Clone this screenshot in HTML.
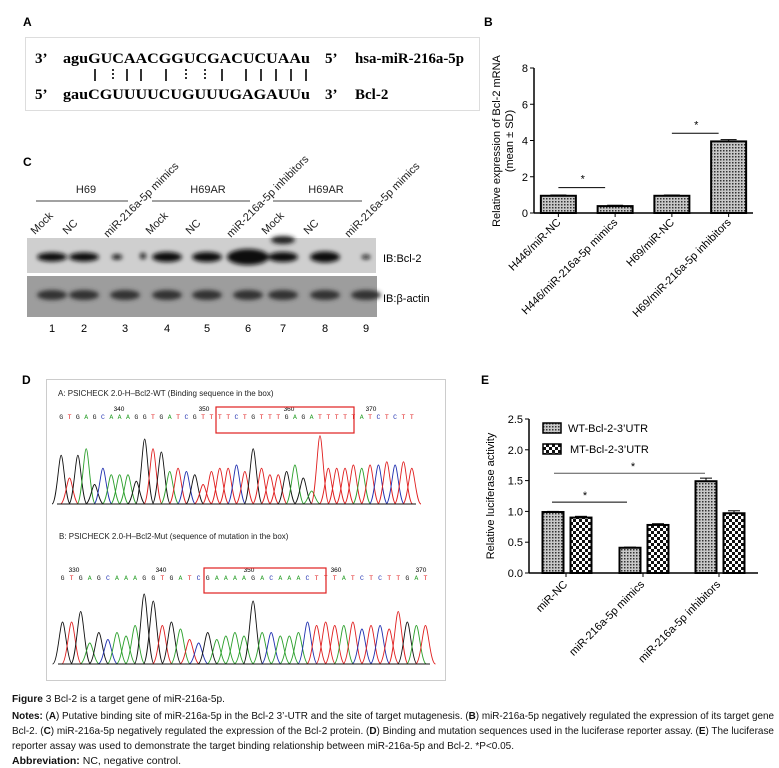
<!DOCTYPE html>
<html><head><meta charset="utf-8">
<style>
html,body{margin:0;padding:0;background:#fff;}
svg{display:block;font-family:"Liberation Sans",sans-serif;}
</style></head>
<body>
<svg id="fig" width="779" height="768" viewBox="0 0 779 768" xmlns="http://www.w3.org/2000/svg">
<defs>
  <pattern id="dots" width="3" height="3" patternUnits="userSpaceOnUse">
    <rect width="3" height="3" fill="#c8c8c8"/><rect width="1.5" height="1.5" fill="#333"/>
  </pattern>
  <pattern id="checks" width="6" height="6" patternUnits="userSpaceOnUse">
    <rect width="6" height="6" fill="#fff"/><rect width="3" height="3" fill="#111"/><rect x="3" y="3" width="3" height="3" fill="#111"/>
  </pattern>
  <filter id="blur" x="-30%" y="-100%" width="160%" height="300%"><feGaussianBlur stdDeviation="2.2"/></filter>
</defs>

<!-- Panel A -->
<g>
  <text x="23" y="26" font-size="12" font-weight="bold">A</text>
  <rect x="25.5" y="37.5" width="454" height="73" fill="#fff" stroke="#ddd"/>
  <g font-family="'Liberation Serif',serif" font-weight="bold" font-size="15">
    <text x="35" y="63">3’</text>
    <text x="63" y="63" textLength="247" lengthAdjust="spacingAndGlyphs">aguGUCAACGGUCGACUCUAAu</text>
    <text x="325" y="63">5’</text>
    <text x="355" y="63" textLength="109" lengthAdjust="spacingAndGlyphs">hsa-miR-216a-5p</text>
    <text x="35" y="99">5’</text>
    <text x="63" y="99" textLength="247" lengthAdjust="spacingAndGlyphs">gauCGUUUUCUGUUUGAGAUUu</text>
    <text x="325" y="99">3’</text>
    <text x="355" y="99">Bcl-2</text>
  </g>
  <g id="pairs" stroke="#000" stroke-width="1.6"></g>
</g>

<!-- Panel C -->
<g>
  <text x="23" y="166" font-size="12" font-weight="bold">C</text>
  <g font-size="11" fill="#222">
    <text x="86" y="193" text-anchor="middle">H69</text>
    <text x="208" y="193" text-anchor="middle">H69AR</text>
    <text x="326" y="193" text-anchor="middle">H69AR</text>
  </g>
  <g stroke="#444" stroke-width="1">
    <line x1="36" y1="201" x2="128" y2="201"/><line x1="152" y1="201" x2="250" y2="201"/><line x1="273" y1="201" x2="362" y2="201"/>
  </g>
  <g id="laneLabels" font-size="11" fill="#222"></g>
  <rect x="27" y="238" width="349" height="35" fill="#cfcfcf"/>
  <rect x="27" y="276" width="350" height="41" fill="#9d9d9d"/>
  <g id="bands" filter="url(#blur)"></g>
  <text x="383" y="262" font-size="11">IB:Bcl-2</text>
  <text x="383" y="302" font-size="11">IB:β-actin</text>
  <g id="laneNums" font-size="11" text-anchor="middle"></g>
</g>

<!-- Panel B -->
<g id="panelB">
  <text x="484" y="26" font-size="12" font-weight="bold">B</text>
  <text transform="translate(500,141) rotate(-90)" font-size="11" text-anchor="middle">Relative expression of Bcl-2 mRNA</text>
  <text transform="translate(513,141) rotate(-90)" font-size="11" text-anchor="middle">(mean ± SD)</text>
</g>

<!-- Panel D -->
<g>
  <text x="22" y="384" font-size="12" font-weight="bold">D</text>
  <rect x="46.5" y="379.5" width="399" height="301" fill="#fff" stroke="#ccc"/>
  <text x="58" y="396" font-size="8" fill="#222">A: PSICHECK 2.0-H–Bcl2-WT (Binding sequence in the box)</text>
  <text x="59" y="539" font-size="8" fill="#222">B: PSICHECK 2.0-H–Bcl2-Mut (sequence of mutation in the box)</text>
  <g id="chrom"></g>
  <rect x="216" y="407" width="138" height="26" fill="none" stroke="#e02020" stroke-width="1.2"/>
  <rect x="204" y="568" width="122" height="25" fill="none" stroke="#e02020" stroke-width="1.2"/>
</g>

<!-- Panel E -->
<g id="panelE">
  <text x="481" y="384" font-size="12" font-weight="bold">E</text>
  <text transform="translate(494,496) rotate(-90)" font-size="11" text-anchor="middle">Relative luciferase activity</text>
  <rect x="543" y="423" width="18" height="10" fill="url(#dots)" stroke="#000" stroke-width="1.5"/>
  <text x="568" y="432" font-size="11">WT-Bcl-2-3’UTR</text>
  <rect x="543" y="444" width="18" height="10" fill="url(#checks)" stroke="#000" stroke-width="1.5"/>
  <text x="570" y="453" font-size="11">MT-Bcl-2-3’UTR</text>
</g>

<!-- Caption -->
<g font-size="10.5" fill="#111">
  <text x="12" y="702" textLength="213" lengthAdjust="spacingAndGlyphs"><tspan font-weight="bold">Figure</tspan> 3 Bcl-2 is a target gene of miR-216a-5p.</text>
  <text x="12" y="719" textLength="762" lengthAdjust="spacingAndGlyphs"><tspan font-weight="bold">Notes:</tspan> (<tspan font-weight="bold">A</tspan>) Putative binding site of miR-216a-5p in the Bcl-2 3’-UTR and the site of target mutagenesis. (<tspan font-weight="bold">B</tspan>) miR-216a-5p negatively regulated the expression of its target gene</text>
  <text x="12" y="734" textLength="762" lengthAdjust="spacingAndGlyphs">Bcl-2. (<tspan font-weight="bold">C</tspan>) miR-216a-5p negatively regulated the expression of the Bcl-2 protein. (<tspan font-weight="bold">D</tspan>) Binding and mutation sequences used in the luciferase reporter assay. (<tspan font-weight="bold">E</tspan>) The luciferase</text>
  <text x="12" y="749" textLength="502" lengthAdjust="spacingAndGlyphs">reporter assay was used to demonstrate the target binding relationship between miR-216a-5p and Bcl-2. *P&lt;0.05.</text>
  <text x="12" y="764" textLength="169" lengthAdjust="spacingAndGlyphs"><tspan font-weight="bold">Abbreviation:</tspan> NC, negative control.</text>
</g>
</svg>

<script>
const NS='http://www.w3.org/2000/svg';
function mk(tag,attrs,parent,txt){const e=document.createElementNS(NS,tag);for(const k in attrs)e.setAttribute(k,attrs[k]);if(txt!==undefined)e.textContent=txt;parent.appendChild(e);return e;}

// ---- Panel B data ----
const bCategories=['H446/miR-NC','H446/miR-216a-5p mimics','H69/miR-NC','H69/miR-216a-5p inhibitors'];
const bValues=[0.95,0.38,0.95,3.95];
const bErrors=[0.04,0.05,0.04,0.1];
const bTicks=[0,2,4,6,8];

// ---- Panel E data ----
const eCategories=['miR-NC','miR-216a-5p mimics','miR-216a-5p inhibitors'];
const eWT=[0.99,0.41,1.49];
const eMT=[0.90,0.78,0.97];
const eWTerr=[0.01,0.01,0.05];
const eMTerr=[0.02,0.02,0.04];
const eTicks=[0,0.5,1.0,1.5,2.0,2.5];

// Panel B
(function(){
  const g=document.getElementById('panelB');
  const y0=213,y1=68,ymax=8;const ys=v=>y0-(v/ymax)*(y0-y1);
  const axL=534,axR=753;const slot=(axR-axL)/bCategories.length;
  const l=mk('line',{x1:axL,y1:y1,x2:axL,y2:y0,stroke:'#000','stroke-width':1.5},g);
  
  const xa=mk('line',{x1:axL,y1:y0,x2:axR,y2:y0,stroke:'#000','stroke-width':1.5},g);
  
  bTicks.forEach(t=>{mk('line',{x1:axL-4,x2:axL,y1:ys(t),y2:ys(t),stroke:'#000'},g);
    const tx=mk('text',{x:axL-6,y:ys(t)+4,'font-size':11,'text-anchor':'end'},g,String(t));
    });
  bCategories.forEach((c,i)=>{
    const cx=axL+slot*(i+0.5)+(i-1.5)*2;const w=35;
    const b=mk('rect',{x:cx-w/2,y:ys(bValues[i]),width:w,height:ys(0)-ys(bValues[i]),fill:'url(#dots)',stroke:'#000','stroke-width':2},g);
    
    mk('line',{x1:cx,x2:cx,y1:ys(bValues[i]),y2:ys(bValues[i]+bErrors[i]),stroke:'#000'},g);
    mk('line',{x1:cx-8,x2:cx+8,y1:ys(bValues[i]+bErrors[i]),y2:ys(bValues[i]+bErrors[i]),stroke:'#000'},g);
    mk('line',{x1:cx,x2:cx,y1:y0,y2:y0+4,stroke:'#000'},g);
    const t=mk('text',{transform:`translate(${cx+3},${y0+10}) rotate(-45)`,'font-size':11,'text-anchor':'end'},g,c);
    
  });
  const c=i=>axL+slot*(i+0.5)+(i-1.5)*2;
  [[0,1],[2,3]].forEach(([a,b2])=>{
    const top=Math.max(bValues[a],bValues[b2])+(b2===3?0.6:0.8);
    const yy=ys(b2===3?4.4:1.4);
    const s=mk('line',{x1:c(a)+0,x2:c(b2)-10,y1:yy,y2:yy,stroke:'#000'},g);
    
    mk('text',{x:(c(a)+c(b2))/2-4,y:yy-5,'font-size':11,'text-anchor':'middle'},g,'*');
  });
})();

// Panel E
(function(){
  const g=document.getElementById('panelE');
  const y0=573,y1=419,ymax=2.5;const ys=v=>y0-(v/ymax)*(y0-y1);
  const axL=529,axR=758;
  mk('line',{x1:axL,y1:y1,x2:axL,y2:y0,stroke:'#000','stroke-width':1.5},g);
  mk('line',{x1:axL,y1:y0,x2:axR,y2:y0,stroke:'#000','stroke-width':1.5},g);
  eTicks.forEach(t=>{mk('line',{x1:axL-4,x2:axL,y1:ys(t),y2:ys(t),stroke:'#000'},g);
    const tx=mk('text',{x:axL-6,y:ys(t)+4,'font-size':11,'text-anchor':'end'},g,t.toFixed(1));
    });
  const centers=[566,643,719];
  eCategories.forEach((c,i)=>{
    const cx=centers[i];
    [[eWT,eWTerr,'url(#dots)',-13,'wt'],[eMT,eMTerr,'url(#checks)',15,'mt']].forEach(([vals,errs,fill,off,nm])=>{
      const v=vals[i],bx=cx+off,w=21;
      const r=mk('rect',{x:bx-w/2,y:ys(v),width:w,height:ys(0)-ys(v),fill:fill,stroke:'#000','stroke-width':2},g);
      
      mk('line',{x1:bx,x2:bx,y1:ys(v),y2:ys(v+errs[i]),stroke:'#000'},g);
      mk('line',{x1:bx-6,x2:bx+6,y1:ys(v+errs[i]),y2:ys(v+errs[i]),stroke:'#000'},g);
    });
    mk('line',{x1:cx,x2:cx,y1:y0,y2:y0+4,stroke:'#000'},g);
    const t=mk('text',{transform:`translate(${cx+2},${y0+12}) rotate(-45)`,'font-size':11,'text-anchor':'end'},g,c);
    
  });
  const s1=mk('line',{x1:552,x2:627,y1:ys(1.15),y2:ys(1.15),stroke:'#000'},g);
  
  mk('text',{x:585,y:ys(1.15)-3,'font-size':11,'text-anchor':'middle'},g,'*');
  const s2=mk('line',{x1:554,x2:705,y1:ys(1.62),y2:ys(1.62),stroke:'#555'},g);
  
  mk('text',{x:633,y:ys(1.62)-3,'font-size':11,'text-anchor':'middle'},g,'*');
})();

// Panel A pair marks
(function(){
  const g=document.getElementById('pairs');
  const xs=[95,113,127,141,166,186,205,222,246,261,276,291,306];
  const dotted=[false,true,false,false,false,true,true,false,false,false,false,false,false];
  xs.forEach((x,i)=>{mk('line',{x1:x,x2:x,y1:69,y2:81,'stroke-dasharray':dotted[i]?'2,2':'none'},g);});
})();

// Panel C
(function(){
  const svg=document.getElementById('fig');
  const lanes=[52,84,125,167,207,248,283,325,366];
  const labels=['Mock','NC','miR-216a-5p mimics','Mock','NC','miR-216a-5p inhibitors','Mock','NC','miR-216a-5p mimics'];
  const ll=document.getElementById('laneLabels');
  labels.forEach((t,i)=>{const e=mk('text',{transform:`translate(${lanes[i]-17},${i%3==2?238:235}) rotate(-45)`},ll,t);
    });
  const ln=document.getElementById('laneNums');
  lanes.forEach((x,i)=>{const e=mk('text',{x:x,y:332},ln,String(i+1));
    });
  const bands=document.getElementById('bands');
  const bcl=[[1,0.9],[1,0.9],[0.35,0.5],[1,1],[1,1],[1.4,1.6],[1,1],[1,1.1],[0.3,0.4]];
  lanes.forEach((x,i)=>{const [w,h]=bcl[i];
    mk('ellipse',{cx:x+(i==2?-8:0),cy:257,rx:15*w,ry:5*h,fill:'#111'},bands);
    mk('ellipse',{cx:x,cy:295,rx:15,ry:5,fill:'#333'},bands);});
  mk('ellipse',{cx:143,cy:256,rx:3,ry:3,fill:'#111'},bands);
  mk('ellipse',{cx:283,cy:240,rx:12,ry:4,fill:'#222'},bands);
})();

// Panel D chromatograms
const wtSeq='GTGAGCAAAGGTGATCGTTTTCTGTTTGAGATTTTTATCTCTT';
const wtHeights=[0.75,0.4,0.75,0.85,0.3,0.55,0.45,0.45,0.45,0.35,1.0,0.85,0.8,0.5,0.55,0.5,0.45,0.3,0.5,0.55,0.55,0.6,0.5,0.85,0.55,0.45,0.45,0.5,0.6,0.4,0.2,1.05,0.55,0.55,0.55,0.6,0.55,0.6,0.6,0.65,0.6,0.65,0.55];
const mutSeq='GTGAGCAAAGGTGATCGAAAAGACAAACTTTATCTCTTGAT';
const mutHeights=[0.6,0.6,0.75,0.3,0.45,0.35,0.45,0.4,0.55,1.0,0.9,0.55,0.6,0.5,0.35,0.3,0.45,0.35,0.4,0.45,0.4,0.9,0.45,0.45,0.4,0.4,0.45,0.6,0.55,0.6,0.55,0.55,0.6,0.5,0.55,0.55,0.5,0.75,0.6,0.55,0.55];
(function(){
  const g=document.getElementById('chrom');
  const col={G:'#111',T:'#e02020',A:'#2ca02c',C:'#2030b0'};
  function draw(seq,hs,x0,x1,base,maxH,ty,nums,numY){
    const step=(x1-x0)/seq.length;
    seq.split('').forEach((ch,i)=>{
      const cx=x0+step*(i+0.5);
      const t=mk('text',{x:cx,y:ty,'font-size':6.5,fill:col[ch],'text-anchor':'middle','font-family':'Liberation Mono,monospace'},g,ch);
      const h=hs[i]*maxH,w=step*1.1;
      const p=mk('path',{d:`M${cx-w},${base} C${cx-w/2},${base} ${cx-w/4},${base-h} ${cx},${base-h} C${cx+w/4},${base-h} ${cx+w/2},${base} ${cx+w},${base}`,fill:'none',stroke:col[ch],'stroke-width':0.9},g);
      
    });
    mk('line',{x1:x0,x2:x1,y1:base,y2:base,stroke:'#111','stroke-width':1},g);
    nums.forEach(([n,x])=>mk('text',{x:x,y:numY,'font-size':6.5,'text-anchor':'middle'},g,n));
  }
  draw(wtSeq,wtHeights,57,416,504,65,419,[['340',119],['350',204],['360',289],['370',371]],411);
  draw(mutSeq,mutHeights,58,430,664,70,580,[['330',74],['340',161],['350',249],['360',336],['370',421]],572);
})();
</script>
</body></html>
